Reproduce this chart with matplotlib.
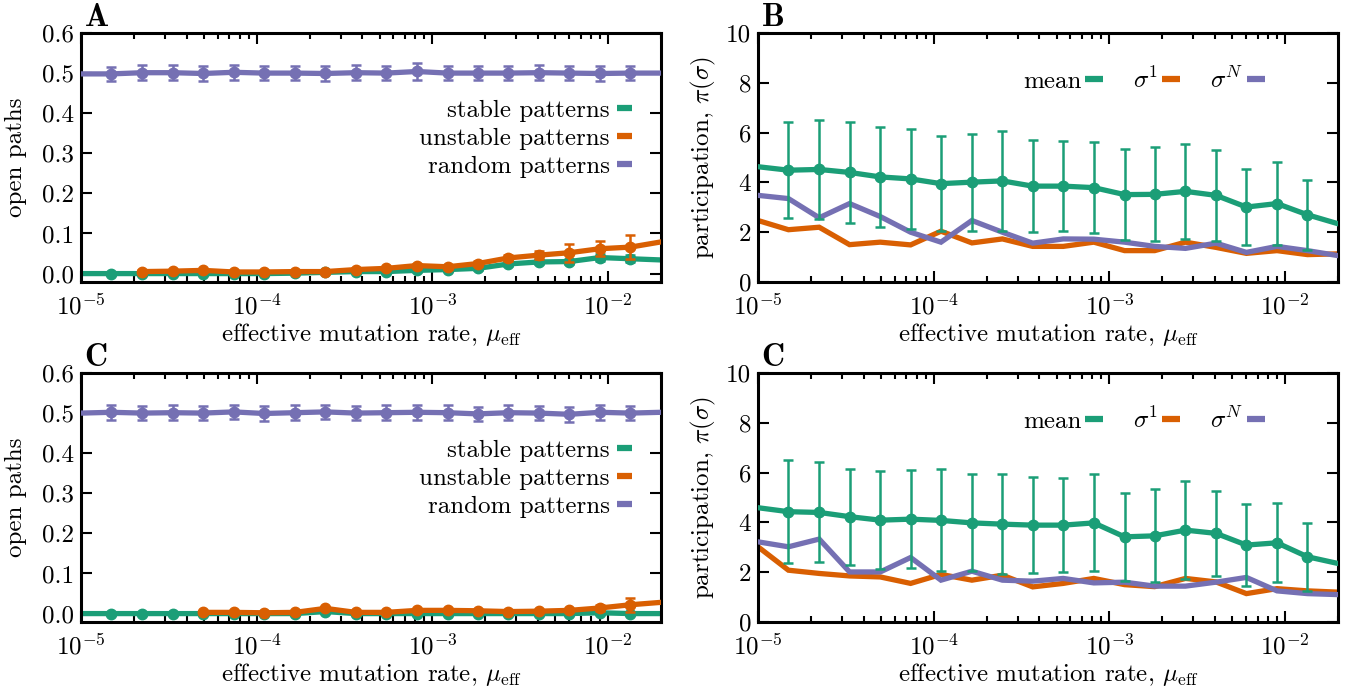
import numpy as np
import matplotlib
matplotlib.use('Agg')
import matplotlib.pyplot as plt
from matplotlib.lines import Line2D

plt.rcParams['font.family'] = 'serif'
plt.rcParams['font.serif'] = ['cmr10', 'DejaVu Serif']
plt.rcParams['mathtext.fontset'] = 'cm'
plt.rcParams['axes.unicode_minus'] = False
plt.rcParams['axes.formatter.use_mathtext'] = True

GREEN = '#1b9e77'
ORANGE = '#d95f02'
PURPLE = '#7570b3'
FS = 18

# effective mutation rates (20 points, 1e-5 .. 2e-2)
mu = [1.00e-5, 1.49e-5, 2.23e-5, 3.32e-5, 4.96e-5, 7.39e-5, 1.10e-4, 1.65e-4,
      2.46e-4, 3.66e-4, 5.46e-4, 8.15e-4, 1.22e-3, 1.81e-3, 2.71e-3, 4.04e-3,
      6.02e-3, 8.99e-3, 1.34e-2, 2.00e-2]

nan = np.nan

# panel A: open paths
a_stable = [0.0, 0.0, 0.0, 0.0, 0.0, 0.0, 0.0, 0.001, 0.003, 0.005,
            0.005, 0.008, 0.010, 0.013, 0.024, 0.029, 0.030, 0.040, 0.037, 0.034]
a_stable_err = [0.002, 0.002, 0.002, 0.002, 0.002, 0.002, 0.002, 0.002, 0.002, 0.003,
                0.003, 0.003, 0.003, 0.004, 0.005, 0.006, 0.006, 0.008, 0.009, 0.008]
a_unstable = [nan, nan, 0.005, 0.006, 0.008, 0.004, 0.004, 0.005, 0.005, 0.010,
              0.013, 0.020, 0.017, 0.025, 0.039, 0.046, 0.052, 0.062, 0.066, 0.079]
a_unstable_err = [nan, nan, 0.003, 0.003, 0.003, 0.003, 0.003, 0.003, 0.003, 0.004,
                  0.004, 0.005, 0.005, 0.006, 0.008, 0.010, 0.023, 0.019, 0.030, 0.030]
a_random = [0.498, 0.498, 0.501, 0.501, 0.499, 0.502, 0.500, 0.500, 0.499, 0.501,
            0.500, 0.504, 0.500, 0.500, 0.500, 0.501, 0.500, 0.499, 0.500, 0.500]
a_random_err = [0.018] * 11 + [0.022] + [0.018] * 8

# panel B: participation
b_mean = [4.63, 4.49, 4.52, 4.40, 4.22, 4.14, 3.95, 4.01, 4.06, 3.85,
          3.85, 3.79, 3.51, 3.52, 3.64, 3.48, 3.01, 3.15, 2.70, 2.34]
b_mean_err = [1.9, 1.93, 2.0, 2.03, 2.02, 2.0, 1.9, 1.95, 2.0, 1.86,
              1.8, 1.83, 1.82, 1.89, 1.9, 1.82, 1.53, 1.65, 1.41, 1.4]
b_first = [2.47, 2.10, 2.20, 1.50, 1.60, 1.49, 2.04, 1.57, 1.73, 1.43,
           1.43, 1.60, 1.26, 1.26, 1.60, 1.39, 1.15, 1.26, 1.10, 1.13]
b_last = [3.48, 3.35, 2.58, 3.15, 2.63, 2.00, 1.60, 2.47, 2.00, 1.56,
          1.73, 1.72, 1.60, 1.43, 1.35, 1.56, 1.19, 1.43, 1.26, 1.06]

# panel C: open paths
c_stable = [0.0, 0.0, 0.0, 0.0, 0.0, 0.0, 0.0, 0.0, 0.005, 0.0,
            0.0, 0.0, 0.0, 0.0, 0.0, 0.0, 0.0, 0.002, 0.0, 0.0]
c_stable_err = [0.002] * 20
c_unstable = [nan, nan, nan, nan, 0.003, 0.003, 0.002, 0.003, 0.013, 0.003,
              0.003, 0.008, 0.008, 0.007, 0.005, 0.006, 0.008, 0.014, 0.022, 0.028]
c_unstable_err = [nan, nan, nan, nan, 0.003, 0.003, 0.003, 0.003, 0.004, 0.003,
                  0.003, 0.003, 0.003, 0.003, 0.003, 0.003, 0.004, 0.008, 0.018, 0.02]
c_random = [0.500, 0.502, 0.500, 0.501, 0.500, 0.503, 0.499, 0.501, 0.503, 0.500,
            0.501, 0.502, 0.501, 0.498, 0.501, 0.500, 0.497, 0.502, 0.500, 0.502]
c_random_err = [0.018] * 20

# panel D: participation
d_mean = [4.59, 4.43, 4.40, 4.23, 4.09, 4.13, 4.08, 3.98, 3.93, 3.89,
          3.89, 3.98, 3.42, 3.46, 3.69, 3.56, 3.09, 3.18, 2.62, 2.35]
d_mean_err = [2.0, 2.06, 2.01, 1.93, 1.97, 1.98, 2.05, 1.95, 2.0, 1.93,
              1.89, 1.95, 1.77, 1.87, 1.96, 1.72, 1.65, 1.59, 1.37, 1.3]
d_first = [3.02, 2.08, 1.95, 1.85, 1.81, 1.55, 1.91, 1.68, 1.88, 1.41,
           1.55, 1.75, 1.50, 1.42, 1.75, 1.61, 1.14, 1.34, 1.25, 1.20]
d_last = [3.22, 3.02, 3.33, 2.01, 2.01, 2.59, 1.68, 2.04, 1.68, 1.64,
          1.75, 1.57, 1.60, 1.44, 1.44, 1.60, 1.79, 1.25, 1.14, 1.10]

mu = np.array(mu)
inner = slice(1, 19)
xlabel = r'effective mutation rate, $\mu_{\rm eff}$'


def style_axis(ax, ylim, yticks, yfmt):
    ax.set_xscale('log')
    ax.set_xlim(1e-5, 2e-2)
    ax.set_ylim(*ylim)
    ax.set_yticks(yticks)
    ax.set_yticklabels([yfmt % v for v in yticks])
    ax.tick_params(which='both', direction='in', top=True, right=True,
                   labelsize=FS, width=1.5)
    ax.tick_params(which='major', length=8)
    ax.tick_params(axis='x', which='major', pad=8.5)
    ax.tick_params(axis='y', which='major', pad=5)
    ax.tick_params(which='minor', length=4)
    for s in ax.spines.values():
        s.set_linewidth(2.2)
    ax.set_xlabel(xlabel, fontsize=FS, labelpad=0.5)


def series(ax, y, err, c, z, lw=3.8, markers=True):
    y = np.array(y, dtype=float)
    ax.plot(mu, y, color=c, lw=lw, zorder=z, solid_joinstyle='miter')
    if err is not None:
        ax.errorbar(mu[inner], y[inner], yerr=np.array(err, dtype=float)[inner],
                    fmt='o' if markers else 'none', color=c, ms=7.5, elinewidth=1.8,
                    capsize=3.5, capthick=1.8, zorder=z)


def proxies():
    return [Line2D([], [], color=c, lw=4.5, solid_capstyle='butt')
            for c in (GREEN, ORANGE, PURPLE)]


def open_panel(ax, stable, stable_err, unstable, unstable_err, rnd, rnd_err, tag):
    series(ax, stable, stable_err, GREEN, 2)
    series(ax, unstable, unstable_err, ORANGE, 3)
    series(ax, rnd, rnd_err, PURPLE, 4)
    style_axis(ax, (-0.021, 0.6), [0.0, 0.1, 0.2, 0.3, 0.4, 0.5, 0.6], '%.1f')
    ax.set_ylabel('open paths', fontsize=FS, labelpad=11)
    ax.legend(proxies(), ['stable patterns', 'unstable patterns', 'random patterns'],
              loc='center right', bbox_to_anchor=(0.967, 0.575), frameon=False,
              markerfirst=False, handlelength=0.58, handletextpad=0.3,
              labelspacing=0.22, fontsize=FS, borderaxespad=0)
    ax.text(0.006, 1.006, r'$\mathbf{%s}$' % tag, transform=ax.transAxes,
            fontsize=23, va='bottom', ha='left')


def part_panel(ax, mean, mean_err, first, last, tag):
    series(ax, first, None, ORANGE, 2)
    series(ax, last, None, PURPLE, 3)
    series(ax, mean, mean_err, GREEN, 4)
    style_axis(ax, (0, 10), [0, 2, 4, 6, 8, 10], '%d')
    ax.set_ylabel(r'participation, $\pi(\sigma)$', fontsize=FS, labelpad=6)
    ax.legend(proxies(), ['mean', r'$\sigma^1$', r'$\sigma^N$'], ncol=3,
              loc='center right', bbox_to_anchor=(0.891, 0.81), frameon=False,
              markerfirst=False, handlelength=0.72, handletextpad=0.15,
              columnspacing=1.2, fontsize=FS, borderaxespad=0)
    ax.text(0.006, 1.006, r'$\mathbf{%s}$' % tag, transform=ax.transAxes,
            fontsize=23, va='bottom', ha='left')


fig = plt.figure(figsize=(13.64, 6.88), dpi=100)
W, H = 1364.0, 688.0
axA = fig.add_axes([81 / W, 1 - 282 / H, 580 / W, 249 / H])
axB = fig.add_axes([758 / W, 1 - 282 / H, 580 / W, 249 / H])
axC = fig.add_axes([81 / W, 1 - 622 / H, 580 / W, 249 / H])
axD = fig.add_axes([758 / W, 1 - 622 / H, 580 / W, 249 / H])

open_panel(axA, a_stable, a_stable_err, a_unstable, a_unstable_err, a_random, a_random_err, 'A')
part_panel(axB, b_mean, b_mean_err, b_first, b_last, 'B')
open_panel(axC, c_stable, c_stable_err, c_unstable, c_unstable_err, c_random, c_random_err, 'C')
part_panel(axD, d_mean, d_mean_err, d_first, d_last, 'C')

fig.savefig('out.png', dpi=100)
